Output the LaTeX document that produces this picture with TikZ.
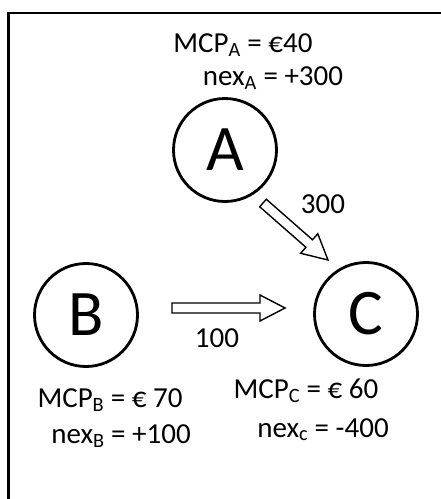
\documentclass[tikz,border=0pt]{standalone}
\usepackage{fontspec}
\setmainfont{Carlito}
\usetikzlibrary{calc}

\tikzset{
  market/.style={circle, draw, line width=2.8pt, minimum size=103pt, inner sep=0pt, font=\fontsize{65}{65}\selectfont},
  price/.style={anchor=base, inner sep=0pt, font=\fontsize{29}{35}\selectfont},
  flow/.style={draw, line width=1.4pt, fill=white, line join=miter},
}

% hollow block arrow from #1 to #2
\newcommand{\flowarrow}[2]{%
  \coordinate (head) at ($(#2)!25pt!(#1)$);
  \draw[flow] ($(#1)!5pt!90:(#2)$) -- ($(head)!5pt!90:(#2)$) -- ($(head)!13pt!90:(#2)$) -- (#2)
    -- ($(head)!13pt!-90:(#2)$) -- ($(head)!5pt!-90:(#2)$) -- ($(#1)!5pt!-90:(#2)$) -- cycle;
}

\begin{document}
\begin{tikzpicture}[x=1pt, y=-1pt]
    \useasboundingbox (0,0) rectangle (441,499);

    % Frame
    \draw[line width=2.3pt] (441,13.3) -- (8.5,13.3) -- (8.5,499);

    % Markets
    \node[market] (A) at (225,150) {A};
    \node[market] (B) at (86,315) {B};
    \node[market] (C) at (366,314) {C};

    % Flows
    \coordinate (acTail) at ($(A)+(38,53)$);
    \coordinate (acTip) at ($(C)+(-38,-54)$);
    \flowarrow{acTail}{acTip}
    \node[price] (flowAC) at (323,213) {300};

    \coordinate (bcTail) at ($(B)+(86,-7)$);
    \coordinate (bcTip) at ($(C)+(-81,-6)$);
    \flowarrow{bcTail}{bcTip}
    \node[price] (flowBC) at (217,347) {100};

    % Prices and net exports
    \node[price] (mcpA) at (243,52) {MCP\textsubscript{A} = €40};
    \node[price] (nexA) at (273,85) {nex\textsubscript{A} = +300};
    \node[price] (mcpB) at (110,407) {MCP\textsubscript{B} = € 70};
    \node[price] (nexB) at (121,443) {nex\textsubscript{B} = +100};
    \node[price] (mcpC) at (306,398) {MCP\textsubscript{C} = € 60};
    \node[price] (nexC) at (323,437) {nex\textsubscript{c} = -400};
\end{tikzpicture}
\end{document}
